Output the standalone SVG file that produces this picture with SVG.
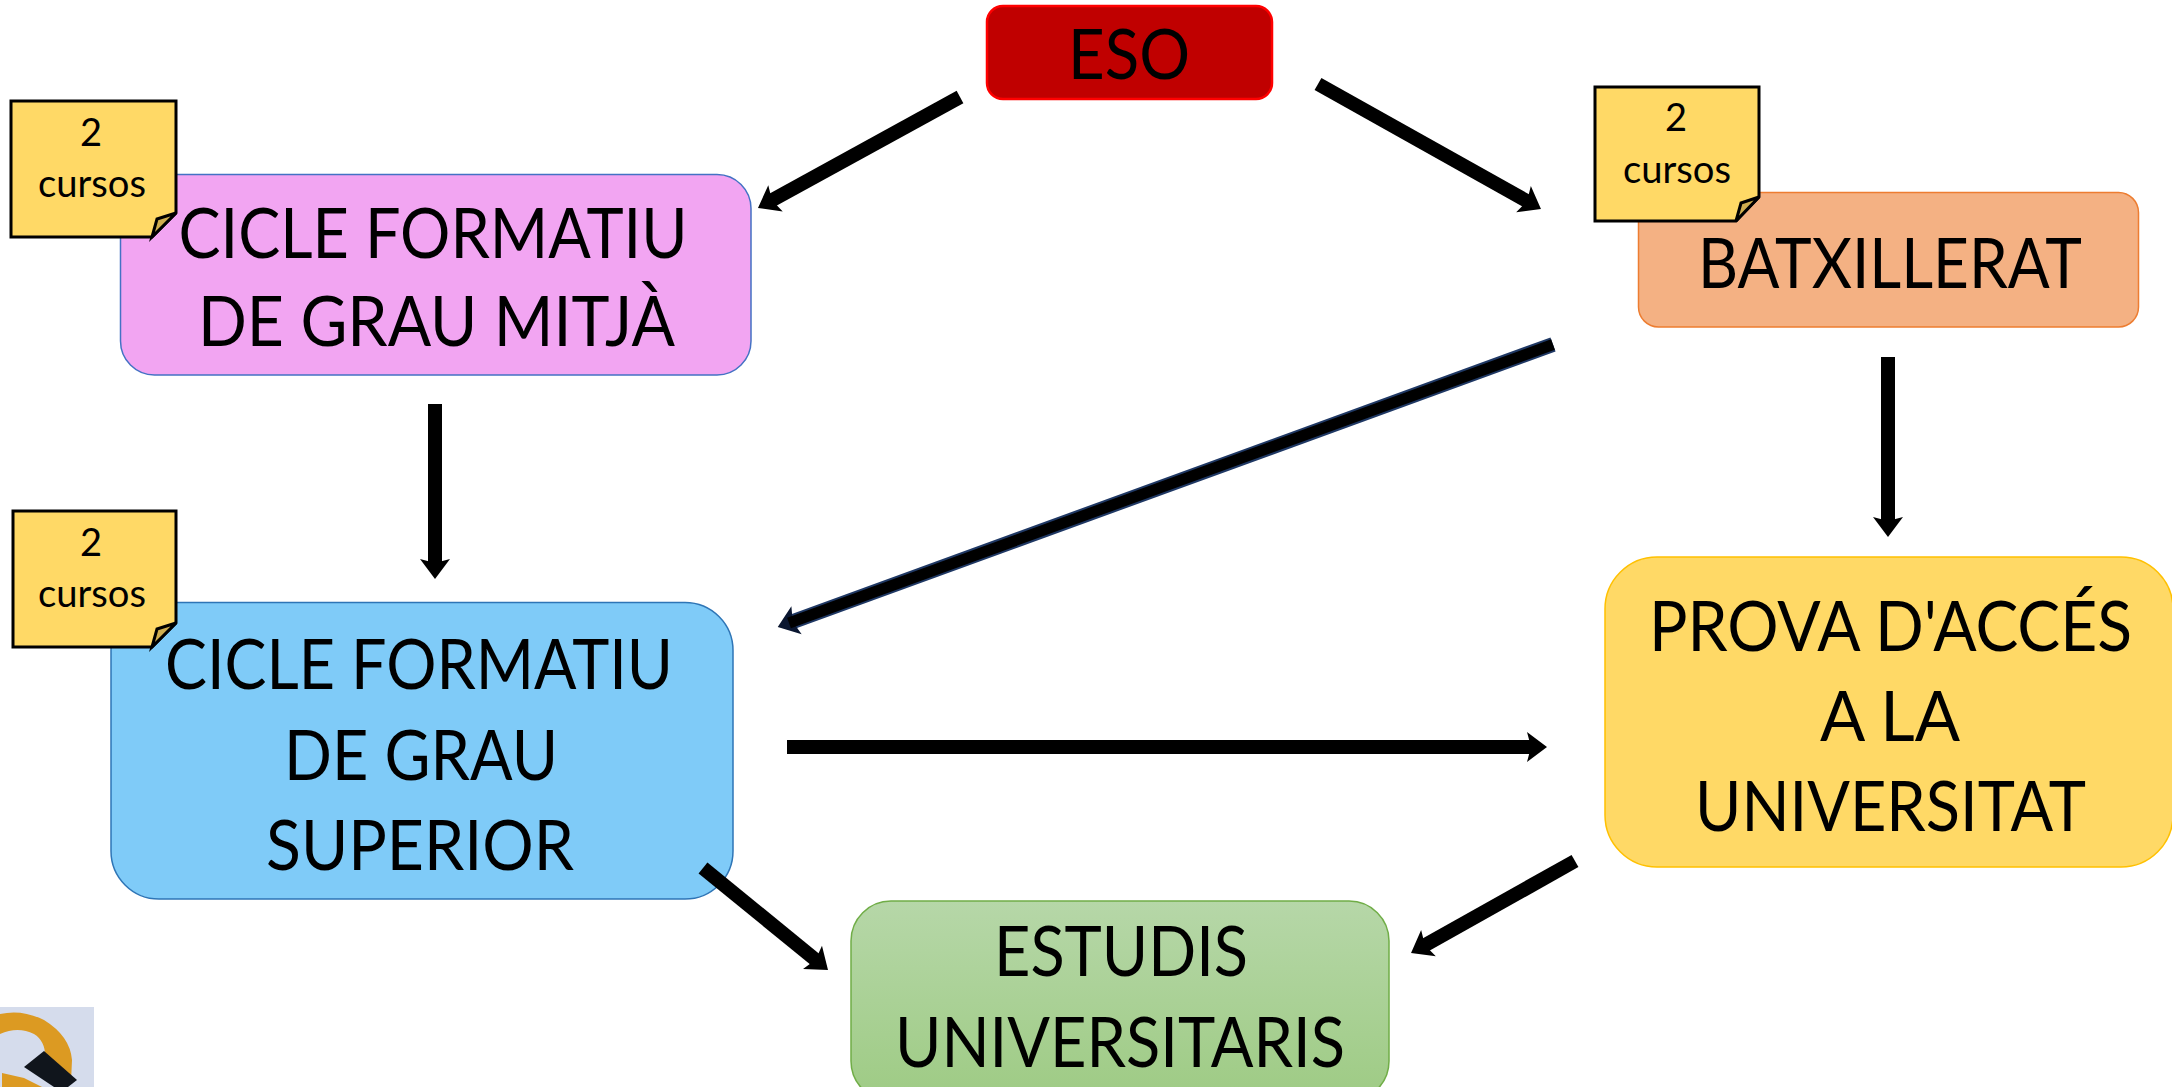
<svg xmlns="http://www.w3.org/2000/svg" width="2172" height="1087" viewBox="0 0 2172 1087">
<style>
text{font-family:"Lato","Carlito","Liberation Sans",sans-serif;fill:#000;text-anchor:middle}
.big{font-size:69px}
.small{font-size:38px}
.note{fill:#ffd966;stroke:#000;stroke-width:3}
.fold{fill:#cfae50;stroke:#000;stroke-width:3}
.arrow{fill:none;stroke:#000;stroke-width:14}
</style>
<defs>
<linearGradient id="greenFill" x1="0" y1="0" x2="0" y2="1"><stop offset="0" stop-color="#b6d7a8"/><stop offset="1" stop-color="#9ecb84"/></linearGradient>
<marker id="head" markerUnits="userSpaceOnUse" markerWidth="40" markerHeight="40" refX="18" refY="20" orient="auto" overflow="visible"><path d="M10 5 L30 20 L10 35 L14 20 Z" fill="#000"/></marker>
<marker id="headNavy" markerUnits="userSpaceOnUse" markerWidth="40" markerHeight="40" refX="18" refY="20" orient="auto" overflow="visible"><path d="M10 5 L30 20 L10 35 L14 20 Z" fill="#0a1630"/></marker>
</defs>

<g id="logo">
<rect x="0" y="1007" width="94" height="80" fill="#d5dcec"/>
<path d="M0 1014 Q22 1009 44 1020 Q70 1036 72 1060 L71 1082 L45 1062 Q47 1042 34 1034 Q18 1026 0 1034 Z" fill="#dc9a22"/>
<path d="M2 1073 L24 1078 L42 1087 L2 1087 Z" fill="#dc9a22"/>
<path d="M44 1051 L24 1067 L54 1087 L68 1087 L77 1080 Z" fill="#10151c"/>
</g>

<g id="eso"><rect x="987" y="6" width="285" height="93" rx="16" fill="#c00000" stroke="#ff0000" stroke-width="2.500"/>
<text class="big" x="1129" y="79" textLength="122" lengthAdjust="spacingAndGlyphs">ESO</text></g>

<g id="grau-mitja"><rect x="120.500" y="174.500" width="630.500" height="200.500" rx="34" fill="#f2a5f2" stroke="#4472c4" stroke-width="1.500"/>
<text class="big" x="433" y="258" textLength="509" lengthAdjust="spacingAndGlyphs">CICLE FORMATIU</text>
<text class="big" x="436.500" y="346" textLength="477" lengthAdjust="spacingAndGlyphs">DE GRAU MITJÀ</text></g>

<g id="batxillerat"><rect x="1638.500" y="192.500" width="500" height="134.500" rx="20" fill="#f4b183" stroke="#ed7d31" stroke-width="1.500"/>
<text class="big" x="1890" y="288" textLength="384" lengthAdjust="spacingAndGlyphs">BATXILLERAT</text></g>

<g id="grau-superior"><rect x="111" y="602.500" width="622" height="296.500" rx="48" fill="#7fcbf8" stroke="#2e75b6" stroke-width="1.500"/>
<text class="big" x="419" y="689" textLength="508" lengthAdjust="spacingAndGlyphs">CICLE FORMATIU</text>
<text class="big" x="421" y="780" textLength="274" lengthAdjust="spacingAndGlyphs">DE GRAU</text>
<text class="big" x="420" y="870" textLength="308" lengthAdjust="spacingAndGlyphs">SUPERIOR</text></g>

<g id="prova"><rect x="1605" y="557" width="568" height="310" rx="52" fill="#ffd966" stroke="#ffc000" stroke-width="1.500"/>
<text class="big" x="1890.500" y="651" textLength="483" lengthAdjust="spacingAndGlyphs">PROVA D'ACCÉS</text>
<text class="big" x="1890" y="741" textLength="140" lengthAdjust="spacingAndGlyphs">A LA</text>
<text class="big" x="1890.500" y="831" textLength="391" lengthAdjust="spacingAndGlyphs">UNIVERSITAT</text></g>

<g id="estudis"><rect x="851" y="901" width="538" height="200" rx="40" fill="url(#greenFill)" stroke="#70ad47" stroke-width="1.500"/>
<text class="big" x="1121" y="976" textLength="254" lengthAdjust="spacingAndGlyphs">ESTUDIS</text>
<text class="big" x="1120" y="1067" textLength="450" lengthAdjust="spacingAndGlyphs">UNIVERSITARIS</text></g>

<g id="note-mitja"><path class="note" d="M11 101 H176 V213 L152 237 H11 Z"/><path class="fold" d="M152 237 L157 219 L176 213 Z"/>
<text class="small" x="91" y="146">2</text><text class="small" x="92" y="197" textLength="108" lengthAdjust="spacingAndGlyphs">cursos</text></g>

<g id="note-batxillerat"><path class="note" d="M1595 87 H1759 V197 L1736 221 H1595 Z"/><path class="fold" d="M1736 221 L1741 203 L1759 197 Z"/>
<text class="small" x="1676" y="131">2</text><text class="small" x="1677" y="183" textLength="108" lengthAdjust="spacingAndGlyphs">cursos</text></g>

<g id="note-superior"><path class="note" d="M13 511 H176 V623 L152 647 H13 Z"/><path class="fold" d="M152 647 L157 629 L176 623 Z"/>
<text class="small" x="91" y="556">2</text><text class="small" x="92" y="607" textLength="108" lengthAdjust="spacingAndGlyphs">cursos</text></g>

<g id="connectors">
<line class="arrow" x1="960" y1="97" x2="768.500" y2="202.200" marker-end="url(#head)"/>
<line class="arrow" x1="1318" y1="84" x2="1530.500" y2="203.100" marker-end="url(#head)"/>
<line x1="1553" y1="344.500" x2="789" y2="623" fill="none" stroke="#1f3864" stroke-width="15" marker-end="url(#headNavy)"/>
<line x1="1553" y1="344.500" x2="789" y2="623" fill="none" stroke="#000" stroke-width="11"/>
<line class="arrow" x1="435" y1="404" x2="435" y2="567" marker-end="url(#head)"/>
<line class="arrow" x1="1888" y1="357" x2="1888" y2="525" marker-end="url(#head)"/>
<line class="arrow" x1="787" y1="747" x2="1535" y2="747" marker-end="url(#head)"/>
<line class="arrow" x1="703" y1="868" x2="818.700" y2="962.400" marker-end="url(#head)"/>
<line class="arrow" x1="1575" y1="861" x2="1421.500" y2="947.100" marker-end="url(#head)"/>
</g>
</svg>
